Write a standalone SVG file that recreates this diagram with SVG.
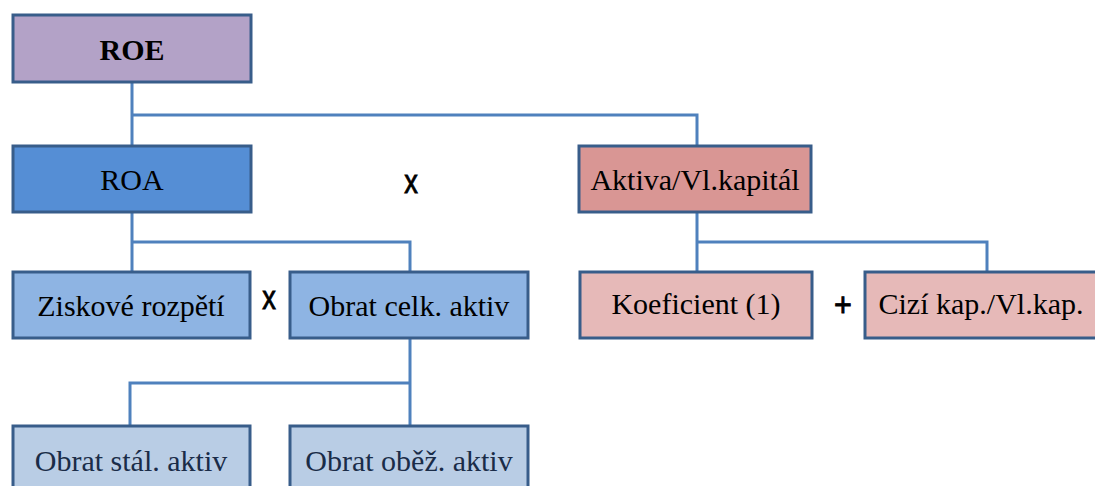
<svg xmlns="http://www.w3.org/2000/svg" width="1095" height="486" viewBox="0 0 1095 486">
<style>
.box{stroke:#385d8a;stroke-width:3}
.t{font-family:"Liberation Serif","Times New Roman",serif;font-size:30px;fill:#000;text-anchor:middle}
.tb{fill:#1a2c48}
.op{font-family:"Liberation Sans",Arial,sans-serif;font-size:34px;fill:#000;stroke:#000;stroke-width:0.9;text-anchor:middle}
.c{fill:none;stroke:#4f81bd;stroke-width:3}
</style>
<rect width="1095" height="486" fill="#fff"/>
<g id="connectors">
<path class="c" d="M132 82V146M132 115H697V146"/>
<path class="c" d="M132 212V272M132 242H410V272"/>
<path class="c" d="M410 338V426M410 383H130V426"/>
<path class="c" d="M697 212V272M697 242H987V272"/>
</g>
<g id="roe"><rect class="box" x="13" y="15" width="238" height="67" fill="#b3a2c7"/><text class="t" x="132" y="60" font-weight="bold">ROE</text></g>
<g id="roa"><rect class="box" x="13" y="146" width="238" height="66" fill="#558ed5"/><text class="t" x="132" y="190">ROA</text></g>
<g id="aktiva"><rect class="box" x="579" y="146" width="232" height="66" fill="#d99694"/><text class="t" x="695" y="190">Aktiva/Vl.kapitál</text></g>
<g id="ziskove"><rect class="box" x="13" y="272" width="237" height="66" fill="#8eb4e3"/><text class="t" x="131" y="316">Ziskové rozpětí</text></g>
<g id="obratcelk"><rect class="box" x="290" y="272" width="238" height="66" fill="#8eb4e3"/><text class="t" x="409" y="316">Obrat celk. aktiv</text></g>
<g id="koef"><rect class="box" x="580" y="272" width="232" height="66" fill="#e6b9b8"/><text class="t" x="696" y="314">Koeficient (1)</text></g>
<g id="cizi"><rect class="box" x="865" y="272" width="234" height="66" fill="#e6b9b8"/><text class="t" x="981" y="314">Cizí kap./Vl.kap.</text></g>
<g id="obratstal"><rect class="box" x="13" y="426" width="237" height="66" fill="#b9cde5"/><text class="t tb" x="131" y="471">Obrat stál. aktiv</text></g>
<g id="obratobez"><rect class="box" x="290" y="426" width="238" height="66" fill="#b9cde5"/><text class="t tb" x="409" y="471">Obrat oběž. aktiv</text></g>
<g id="operators">
<text class="op" transform="translate(411 193) scale(0.8 1)">x</text>
<text class="op" transform="translate(269 309) scale(0.8 1)">x</text>
<text class="op" transform="translate(843 316) scale(0.9 1)">+</text>
</g>
</svg>
